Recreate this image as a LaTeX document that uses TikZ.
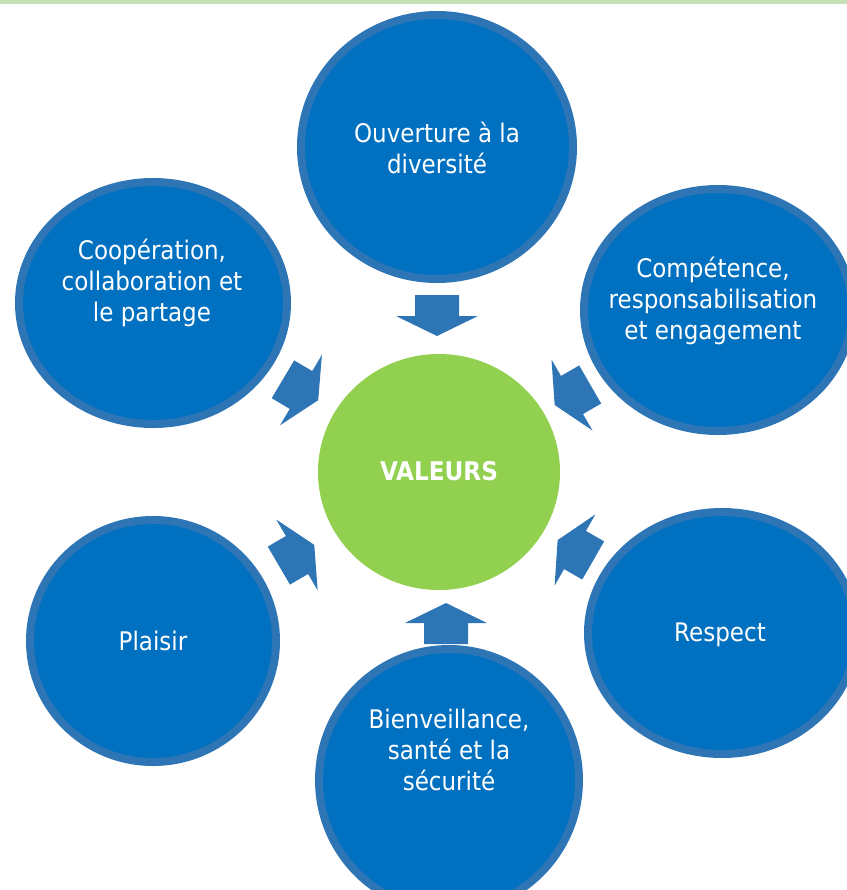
\documentclass[tikz,border=0pt]{standalone}
\usepackage{fontspec}
\setmainfont{DejaVu Sans Condensed}
\usetikzlibrary{shapes.geometric}
\definecolor{fillblue}{HTML}{0070C0}
\definecolor{ringblue}{HTML}{2E75B6}
\definecolor{centergreen}{HTML}{92D050}
\definecolor{topgreen}{HTML}{C5E0B4}
\definecolor{arrowblue}{HTML}{2E75B6}
\tikzset{
  bubble/.style={ellipse, draw=ringblue, fill=fillblue, line width=6pt, inner sep=0pt},
  core/.style={ellipse, fill=centergreen, inner sep=0pt},
  bubbletext/.style={text=white, align=center, inner sep=0pt, font=\fontsize{19.2}{23.3}\selectfont},
  coretext/.style={text=white, align=center, inner sep=0pt, font=\fontsize{19.3}{23}\selectfont\bfseries},
  valarrow/.pic={\fill[arrowblue] (-21,-22) -- (0,-22) -- (0,-41) -- (20,0) -- (0,41) -- (0,22) -- (-21,22) -- cycle;}
}
\begin{document}
\begin{tikzpicture}[x=0.75pt,y=-0.75pt]
\useasboundingbox (0,0) rectangle (847,890);
\clip (0,0) rectangle (847,890);
\fill[topgreen] (0,0) rectangle (847,3.5);
% bubbles
\node[bubble, minimum width=204pt, minimum height=198pt] (top) at (437,147) {};
\node[bubble, minimum width=201pt, minimum height=181.5pt] (tl) at (153,303) {};
\node[bubble, minimum width=201pt, minimum height=181.5pt] (tr) at (718,310) {};
\node[bubble, minimum width=184.5pt, minimum height=181.5pt] (bl) at (153,641) {};
\node[bubble, minimum width=201pt, minimum height=181.5pt] (br) at (722,633) {};
\node[bubble, minimum width=195pt, minimum height=196.5pt] (bot) at (449,780) {};
\node[core, minimum width=181.5pt, minimum height=177pt] (val) at (439,472) {};
% texts
\node[bubbletext] (ttop) at (437,148) {Ouverture à la\\diversité};
\node[bubbletext] (ttl) at (152,283) {Coopération,\\collaboration et\\le partage};
\node[bubbletext] (ttr) at (713,301) {Compétence,\\responsabilisation\\et engagement};
\node[bubbletext] (tbl) at (153,641) {Plaisir};
\node[bubbletext] (tbr) at (720,635) {Respect};
\node[bubbletext] (tbot) at (449,750) {Bienveillance,\\santé et la\\sécurité};
\node[coretext] (tval) at (439,471) {VALEURS};
% arrows
\pic[rotate=-90] at (437,316) {valarrow};
\pic[rotate=-30.7] at (301,390) {valarrow};
\pic[rotate=210] at (572,395) {valarrow};
\pic[rotate=30.3] at (297,555) {valarrow};
\pic[rotate=150.2] at (575,550) {valarrow};
\pic[rotate=90] at (446,623) {valarrow};
\end{tikzpicture}
\end{document}
